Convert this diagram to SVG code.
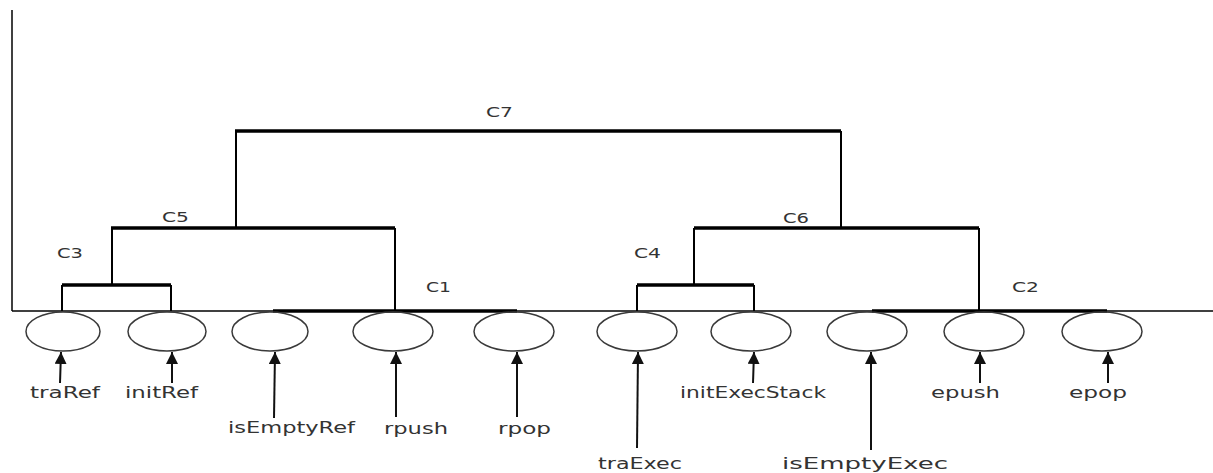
<svg xmlns="http://www.w3.org/2000/svg" width="1213" height="473" viewBox="0 0 1213 473">
<style>
.bg{fill:#fff}
.node ellipse{fill:none;stroke:#3a3a3a;stroke-width:1.5}
.lbl{font-family:"DejaVu Sans",Verdana,sans-serif;font-size:15px;fill:#333}
.cl{font-family:"DejaVu Sans",Verdana,sans-serif;font-size:14px;fill:#333}
.axis{stroke:#000;stroke-width:1.5;fill:none}
.thick{stroke:#000;stroke-width:3.5;fill:none}
.thin{stroke:#000;stroke-width:2;fill:none}
.arr{stroke:#111;stroke-width:2;fill:none;marker-end:url(#ah)}
</style>
<defs>
<marker id="ah" markerUnits="userSpaceOnUse" markerWidth="14" markerHeight="12" viewBox="0 0 14 12" refX="12" refY="6" orient="auto">
<path d="M0,0 L12,6 L0,12 Z" fill="#111"/>
</marker>
</defs>
<rect class="bg" x="0" y="0" width="1213" height="473"/>
<g id="connectors">
<line class="axis" x1="12" y1="10" x2="12" y2="311"/>
<line class="axis" x1="12" y1="311" x2="1213" y2="311"/>
<!-- C7 -->
<line class="thick" x1="235" y1="131" x2="841" y2="131"/>
<line class="thin" x1="236" y1="131" x2="236" y2="227"/>
<line class="thin" x1="841" y1="131" x2="841" y2="227"/>
<!-- C5 -->
<line class="thick" x1="111" y1="228" x2="395" y2="228"/>
<line class="thin" x1="112" y1="228" x2="112" y2="285"/>
<line class="thin" x1="395" y1="228" x2="395" y2="311"/>
<!-- C3 -->
<line class="thick" x1="62" y1="285" x2="171" y2="285"/>
<line class="thin" x1="62" y1="285" x2="62" y2="311"/>
<line class="thin" x1="171" y1="285" x2="171" y2="311"/>
<!-- C1 -->
<line class="thick" x1="273" y1="311" x2="517" y2="311"/>
<!-- C6 -->
<line class="thick" x1="694" y1="228" x2="979" y2="228"/>
<line class="thin" x1="694" y1="228" x2="694" y2="285"/>
<line class="thin" x1="979" y1="228" x2="979" y2="311"/>
<!-- C4 -->
<line class="thick" x1="637" y1="285" x2="754" y2="285"/>
<line class="thin" x1="637" y1="285" x2="637" y2="311"/>
<line class="thin" x1="754" y1="285" x2="754" y2="311"/>
<!-- C2 -->
<line class="thick" x1="872" y1="311" x2="1107" y2="311"/>
<!-- arrows -->
<line class="arr" x1="60" y1="383" x2="61" y2="352"/>
<line class="arr" x1="172" y1="383" x2="172" y2="352"/>
<line class="arr" x1="274" y1="418" x2="275" y2="352"/>
<line class="arr" x1="396" y1="417" x2="396" y2="352"/>
<line class="arr" x1="517" y1="417" x2="517" y2="352"/>
<line class="arr" x1="637" y1="448" x2="638" y2="352"/>
<line class="arr" x1="753" y1="383" x2="754" y2="352"/>
<line class="arr" x1="871" y1="450" x2="871" y2="352"/>
<line class="arr" x1="980" y1="383" x2="980" y2="352"/>
<line class="arr" x1="1108" y1="383" x2="1108" y2="352"/>
</g>
<g id="clusters">
<text class="cl" x="486" y="117" textLength="27" lengthAdjust="spacingAndGlyphs">C7</text>
<text class="cl" x="162" y="222" textLength="27" lengthAdjust="spacingAndGlyphs">C5</text>
<text class="cl" x="783" y="223" textLength="26" lengthAdjust="spacingAndGlyphs">C6</text>
<text class="cl" x="57" y="258" textLength="26" lengthAdjust="spacingAndGlyphs">C3</text>
<text class="cl" x="634" y="258" textLength="27" lengthAdjust="spacingAndGlyphs">C4</text>
<text class="cl" x="426" y="292" textLength="25" lengthAdjust="spacingAndGlyphs">C1</text>
<text class="cl" x="1012" y="292" textLength="27" lengthAdjust="spacingAndGlyphs">C2</text>
</g>
<g id="traRef" class="node"><ellipse cx="63" cy="331.5" rx="37" ry="19.5"/><text class="lbl" x="30" y="398" textLength="70" lengthAdjust="spacingAndGlyphs">traRef</text></g>
<g id="initRef" class="node"><ellipse cx="167" cy="331.5" rx="39" ry="19.5"/><text class="lbl" x="125" y="398" textLength="73" lengthAdjust="spacingAndGlyphs">initRef</text></g>
<g id="isEmptyRef" class="node"><ellipse cx="270" cy="331.5" rx="38" ry="19.5"/><text class="lbl" x="228" y="433" textLength="127" lengthAdjust="spacingAndGlyphs">isEmptyRef</text></g>
<g id="rpush" class="node"><ellipse cx="393" cy="331.5" rx="40" ry="19.5"/><text class="lbl" x="384" y="434" textLength="64" lengthAdjust="spacingAndGlyphs">rpush</text></g>
<g id="rpop" class="node"><ellipse cx="514" cy="331.5" rx="40" ry="19.5"/><text class="lbl" x="498" y="434" textLength="53" lengthAdjust="spacingAndGlyphs">rpop</text></g>
<g id="traExec" class="node"><ellipse cx="637" cy="331.5" rx="40" ry="19.5"/><text class="lbl" x="598" y="469" textLength="84" lengthAdjust="spacingAndGlyphs">traExec</text></g>
<g id="initExecStack" class="node"><ellipse cx="751" cy="331.5" rx="40" ry="19.5"/><text class="lbl" x="680" y="398" textLength="146" lengthAdjust="spacingAndGlyphs">initExecStack</text></g>
<g id="isEmptyExec" class="node"><ellipse cx="867" cy="331.5" rx="40" ry="19.5"/><text class="lbl" x="782" y="469" textLength="166" lengthAdjust="spacingAndGlyphs">isEmptyExec</text></g>
<g id="epush" class="node"><ellipse cx="984" cy="331.5" rx="40" ry="19.5"/><text class="lbl" x="931" y="398" textLength="69" lengthAdjust="spacingAndGlyphs">epush</text></g>
<g id="epop" class="node"><ellipse cx="1102" cy="331.5" rx="40" ry="19.5"/><text class="lbl" x="1069" y="398" textLength="58" lengthAdjust="spacingAndGlyphs">epop</text></g>
</svg>
